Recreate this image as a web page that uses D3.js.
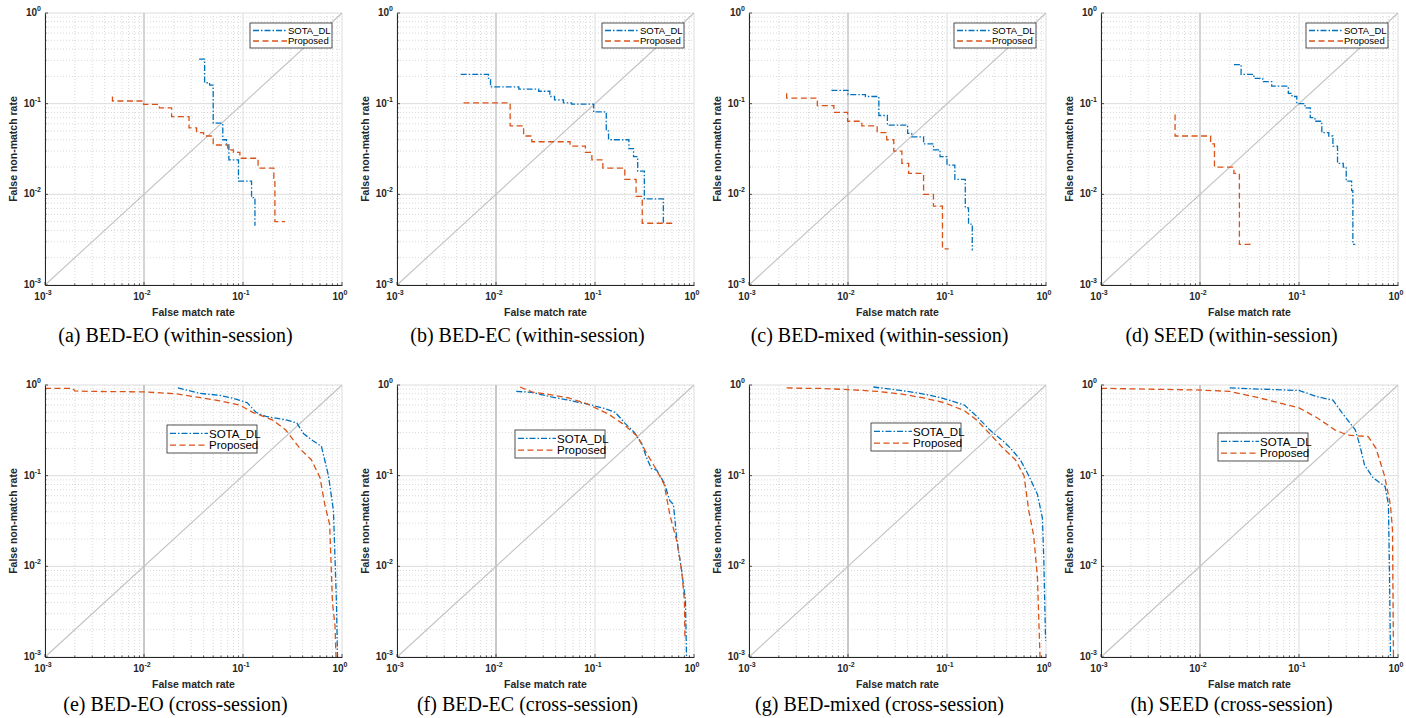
<!DOCTYPE html>
<html>
<head>
<meta charset="utf-8">
<script src="https://cdn.jsdelivr.net/npm/d3@7"></script>
<style>
  body { margin: 0; background: #fff; }
  text { font-family: Arial, "Liberation Sans", Helvetica, sans-serif; }
</style>
</head>
<body>
<svg id="chart" width="1406" height="718"></svg>
<script>
"use strict";

// ---- data: [false match rate, false non-match rate] ----
// top row, step curves (within-session)
const a_sota = [[0.036,0.31],[0.041,0.17],[0.046,0.16],[0.05,0.061],[0.0625,0.04],[0.068,0.035],[0.072,0.024],[0.09,0.014],[0.122,0.0092],[0.132,0.0045]];
const a_prop = [[0.0048,0.12],[0.0048,0.107],[0.0099,0.098],[0.0143,0.09],[0.019,0.072],[0.0285,0.054],[0.034,0.048],[0.04,0.044],[0.05,0.035],[0.07,0.031],[0.08,0.029],[0.093,0.025],[0.142,0.0195],[0.205,0.015],[0.21,0.005],[0.265,0.005]];
const b_sota = [[0.0044,0.21],[0.0084,0.19],[0.0088,0.153],[0.017,0.145],[0.027,0.137],[0.035,0.12],[0.039,0.11],[0.048,0.102],[0.058,0.099],[0.097,0.081],[0.13,0.05],[0.137,0.04],[0.22,0.032],[0.245,0.026],[0.27,0.018],[0.315,0.0089],[0.49,0.0048]];
const b_prop = [[0.0047,0.102],[0.0139,0.057],[0.019,0.044],[0.023,0.038],[0.056,0.034],[0.08,0.029],[0.093,0.024],[0.12,0.0195],[0.2,0.0146],[0.26,0.0095],[0.3,0.0048],[0.62,0.0048]];
const c_sota = [[0.0068,0.14],[0.01,0.126],[0.015,0.12],[0.0205,0.074],[0.025,0.058],[0.04,0.047],[0.044,0.043],[0.058,0.036],[0.073,0.031],[0.085,0.026],[0.1,0.021],[0.12,0.0146],[0.153,0.0071],[0.165,0.0047],[0.18,0.0024]];
const c_prop = [[0.0024,0.13],[0.0024,0.115],[0.0049,0.095],[0.0072,0.08],[0.0099,0.064],[0.0138,0.057],[0.0197,0.048],[0.0246,0.04],[0.029,0.03],[0.035,0.022],[0.041,0.017],[0.058,0.01],[0.073,0.0074],[0.09,0.0025],[0.104,0.0025]];
const d_sota = [[0.022,0.27],[0.026,0.21],[0.035,0.19],[0.043,0.175],[0.053,0.156],[0.078,0.13],[0.085,0.12],[0.095,0.1],[0.115,0.09],[0.13,0.07],[0.145,0.064],[0.17,0.048],[0.2,0.044],[0.22,0.034],[0.245,0.022],[0.28,0.02],[0.3,0.014],[0.34,0.011],[0.35,0.0028],[0.37,0.0028]];
const d_prop = [[0.0056,0.076],[0.0056,0.044],[0.0128,0.036],[0.014,0.02],[0.022,0.017],[0.025,0.0028],[0.035,0.0028]];
// bottom row, smooth curves (cross-session)
const e_sota = [[0.022,0.93],[0.036,0.81],[0.058,0.77],[0.08,0.71],[0.11,0.64],[0.135,0.5],[0.17,0.45],[0.28,0.41],[0.35,0.38],[0.41,0.29],[0.49,0.25],[0.62,0.21],[0.73,0.1],[0.82,0.041],[0.88,0.0038],[0.9,0.001]];
const e_prop = [[0.001,0.92],[0.0019,0.92],[0.002,0.86],[0.003,0.85],[0.01,0.84],[0.021,0.8],[0.036,0.73],[0.058,0.67],[0.093,0.6],[0.125,0.5],[0.2,0.41],[0.27,0.32],[0.32,0.25],[0.39,0.19],[0.49,0.15],[0.6,0.095],[0.67,0.048],[0.75,0.029],[0.78,0.009],[0.8,0.0041],[0.85,0.0022],[0.87,0.001]];
const f_sota = [[0.016,0.85],[0.023,0.83],[0.036,0.74],[0.058,0.67],[0.093,0.6],[0.125,0.55],[0.16,0.5],[0.2,0.38],[0.25,0.3],[0.3,0.22],[0.33,0.16],[0.37,0.12],[0.42,0.115],[0.5,0.083],[0.57,0.053],[0.62,0.048],[0.67,0.02],[0.75,0.009],[0.82,0.0042],[0.84,0.001]];
const f_prop = [[0.0175,0.95],[0.023,0.84],[0.036,0.78],[0.054,0.72],[0.08,0.63],[0.136,0.48],[0.2,0.36],[0.27,0.27],[0.32,0.19],[0.41,0.12],[0.5,0.08],[0.57,0.037],[0.67,0.019],[0.75,0.009],[0.8,0.0042],[0.81,0.0016]];
const g_sota = [[0.018,0.95],[0.027,0.9],[0.05,0.82],[0.08,0.74],[0.11,0.67],[0.15,0.6],[0.2,0.45],[0.27,0.32],[0.37,0.24],[0.44,0.2],[0.55,0.15],[0.67,0.1],[0.82,0.062],[0.92,0.034],[0.95,0.012],[0.99,0.0015]];
const g_prop = [[0.0024,0.93],[0.0036,0.92],[0.0049,0.92],[0.01,0.89],[0.02,0.85],[0.036,0.79],[0.058,0.72],[0.093,0.64],[0.15,0.52],[0.2,0.41],[0.27,0.29],[0.37,0.2],[0.49,0.15],[0.6,0.1],[0.67,0.041],[0.75,0.022],[0.82,0.0075],[0.85,0.0022],[0.87,0.001]];
const h_sota = [[0.02,0.93],[0.042,0.9],[0.1,0.87],[0.155,0.74],[0.22,0.68],[0.27,0.5],[0.37,0.32],[0.41,0.22],[0.46,0.13],[0.56,0.095],[0.74,0.076],[0.8,0.048],[0.82,0.009],[0.84,0.001]];
const h_prop = [[0.001,0.92],[0.01,0.88],[0.02,0.85],[0.036,0.74],[0.058,0.65],[0.1,0.56],[0.155,0.43],[0.23,0.32],[0.31,0.28],[0.5,0.27],[0.6,0.2],[0.73,0.1],[0.84,0.047],[0.88,0.025],[0.9,0.001]];

const captions = ["(a) BED-EO (within-session)", "(b) BED-EC (within-session)", "(c) BED-mixed (within-session)", "(d) SEED (within-session)",
                  "(e) BED-EO (cross-session)", "(f) BED-EC (cross-session)", "(g) BED-mixed (cross-session)", "(h) SEED (cross-session)"];
const seriesNames = ["SOTA_DL", "Proposed"];
const decades = [-3, -2, -1, 0];

const panels = [
    { sota: a_sota, prop: a_prop }, { sota: b_sota, prop: b_prop },
    { sota: c_sota, prop: c_prop }, { sota: d_sota, prop: d_prop },
    { sota: e_sota, prop: e_prop }, { sota: f_sota, prop: f_prop },
    { sota: g_sota, prop: g_prop }, { sota: h_sota, prop: h_prop }
];

// ---- layout ----
const W = 297, H = 272;
const colX = [45, 397, 749, 1101];
const rowY = [13, 385];
const captionY = [342, 711];
// legend boxes (relative to plot area) for bottom row
const bottomLegend = [[122, 40], [118, 45], [122, 38], [117, 48]];
const colors = ["#0072BD", "#D95319"];
const dashes = ["6,2,1.5,2", "6,3.5"];

const svg = d3.select("#chart");

function drawPanel(i) {
    const p = panels[i];
    const row = Math.floor(i / 4), col = i % 4;
    const g = svg.append("g").attr("transform", "translate(" + colX[col] + "," + rowY[row] + ")");
    const x = d3.scaleLog().domain([1e-3, 1]).range([0, W]);
    const y = d3.scaleLog().domain([1e-3, 1]).range([H, 0]);

    let minors = [];
    decades.slice(0, 3).forEach(d => { for (let k = 2; k <= 9; k++) minors.push(k * Math.pow(10, d)); });
    const majors = decades.map(d => Math.pow(10, d));

    // minor grid
    g.selectAll(".mgx").data(minors).enter().append("line")
        .attr("x1", d => x(d)).attr("x2", d => x(d)).attr("y1", 0).attr("y2", H)
        .attr("stroke", "#cfcfcf").attr("stroke-width", 0.8).attr("stroke-dasharray", "1,2");
    g.selectAll(".mgy").data(minors).enter().append("line")
        .attr("y1", d => y(d)).attr("y2", d => y(d)).attr("x1", 0).attr("x2", W)
        .attr("stroke", "#cfcfcf").attr("stroke-width", 0.8).attr("stroke-dasharray", "1,2");
    // major grid
    g.selectAll(".Mgx").data(majors).enter().append("line")
        .attr("x1", d => x(d)).attr("x2", d => x(d)).attr("y1", 0).attr("y2", H)
        .attr("stroke", "#dcdcdc").attr("stroke-width", 1);
    g.selectAll(".Mgy").data(majors).enter().append("line")
        .attr("y1", d => y(d)).attr("y2", d => y(d)).attr("x1", 0).attr("x2", W)
        .attr("stroke", "#dcdcdc").attr("stroke-width", 1);
    // 1% FMR marker
    g.append("line").attr("x1", x(0.01)).attr("x2", x(0.01)).attr("y1", 0).attr("y2", H)
        .attr("stroke", "#c4c4c4").attr("stroke-width", row === 0 ? 1.2 : 1.8);
    // EER diagonal
    g.append("line").attr("x1", x(1e-3)).attr("y1", y(1e-3)).attr("x2", x(1)).attr("y2", y(1))
        .attr("stroke", "#c2c2c2").attr("stroke-width", 1.1);

    const line = d3.line().x(d => x(d[0])).y(d => y(d[1]))
        .curve(row === 0 ? d3.curveStepAfter : d3.curveLinear);
    [p.sota, p.prop].forEach((s, k) => {
        g.append("path").attr("d", line(s)).attr("fill", "none")
            .attr("stroke", colors[k]).attr("stroke-width", 1.3)
            .attr("stroke-dasharray", dashes[k]);
    });

    // axes
    const xAxis = d3.axisBottom(x).tickValues(majors.concat(minors)).tickSizeInner(0).tickSizeOuter(0).tickFormat("");
    const ax = g.append("g").attr("transform", "translate(0," + H + ")").call(xAxis);
    ax.select(".domain").attr("stroke", "#262626");
    const yAxis = d3.axisLeft(y).tickValues(majors.concat(minors)).tickSizeInner(0).tickSizeOuter(0).tickFormat("");
    const ay = g.append("g").call(yAxis);
    ay.select(".domain").attr("stroke", "#262626");
    // inward ticks
    g.selectAll(".tx").data(majors.concat(minors)).enter().append("line")
        .attr("x1", d => x(d)).attr("x2", d => x(d)).attr("y1", H).attr("y2", d => H - (majors.includes(d) ? 3 : 1.5))
        .attr("stroke", "#262626").attr("stroke-width", 0.8);
    g.selectAll(".ty").data(majors.concat(minors)).enter().append("line")
        .attr("y1", d => y(d)).attr("y2", d => y(d)).attr("x1", 0).attr("x2", d => (majors.includes(d) ? 3 : 1.5))
        .attr("stroke", "#262626").attr("stroke-width", 0.8);

    // tick labels with superscript exponents
    decades.forEach(e => {
        const tx = g.append("text").attr("x", x(Math.pow(10, e)) - 2).attr("y", H + 15)
            .attr("text-anchor", "middle").attr("font-size", 10).attr("font-weight", "bold").attr("fill", "#262626");
        tx.append("tspan").text("10");
        tx.append("tspan").attr("dy", -5).attr("font-size", 7).text(String(e));
        const ty = g.append("text").attr("x", -4).attr("y", y(Math.pow(10, e)) + 3)
            .attr("text-anchor", "end").attr("font-size", 10).attr("font-weight", "bold").attr("fill", "#262626");
        ty.append("tspan").text("10");
        ty.append("tspan").attr("dy", -5).attr("font-size", 7).text(String(e));
    });

    g.append("text").attr("x", W / 2).attr("y", H + 31).attr("text-anchor", "middle")
        .attr("font-size", 10.5).attr("font-weight", "bold").attr("fill", "#262626").text("False match rate");
    g.append("text").attr("transform", "translate(-28," + (H / 2) + ") rotate(-90)").attr("text-anchor", "middle")
        .attr("font-size", 10.5).attr("font-weight", "bold").attr("fill", "#262626").text("False non-match rate");

    // legend
    let lx, ly, lw, lh, fs, ll;
    if (row === 0) { lw = 82; lh = 25; lx = W - 10 - lw; ly = 10; fs = 9.5; ll = 34; }
    else { lx = bottomLegend[col][0]; ly = bottomLegend[col][1]; lw = 90; lh = 28; fs = 11.5; ll = 38; }
    const lg = g.append("g").attr("transform", "translate(" + lx + "," + ly + ")");
    lg.append("rect").attr("width", lw).attr("height", lh).attr("fill", "#fff")
        .attr("stroke", "#262626").attr("stroke-width", 0.8);
    seriesNames.forEach((n, k) => {
        const yy = lh * (k === 0 ? 0.3 : 0.72);
        lg.append("line").attr("x1", 3).attr("x2", 3 + ll).attr("y1", yy).attr("y2", yy)
            .attr("stroke", colors[k]).attr("stroke-width", 1.3).attr("stroke-dasharray", dashes[k]);
        lg.append("text").attr("x", 4 + ll).attr("y", yy + fs * 0.36).attr("font-size", fs)
            .attr("fill", "#000").text(n);
    });

    // caption
    svg.append("text").attr("x", colX[col] + W / 2 - 18).attr("y", captionY[row])
        .attr("text-anchor", "middle").attr("font-size", 20)
        .style("font-family", "'Liberation Serif', 'Times New Roman', serif").text(captions[i]);
}

panels.forEach((p, i) => drawPanel(i));
</script>
</body>
</html>
